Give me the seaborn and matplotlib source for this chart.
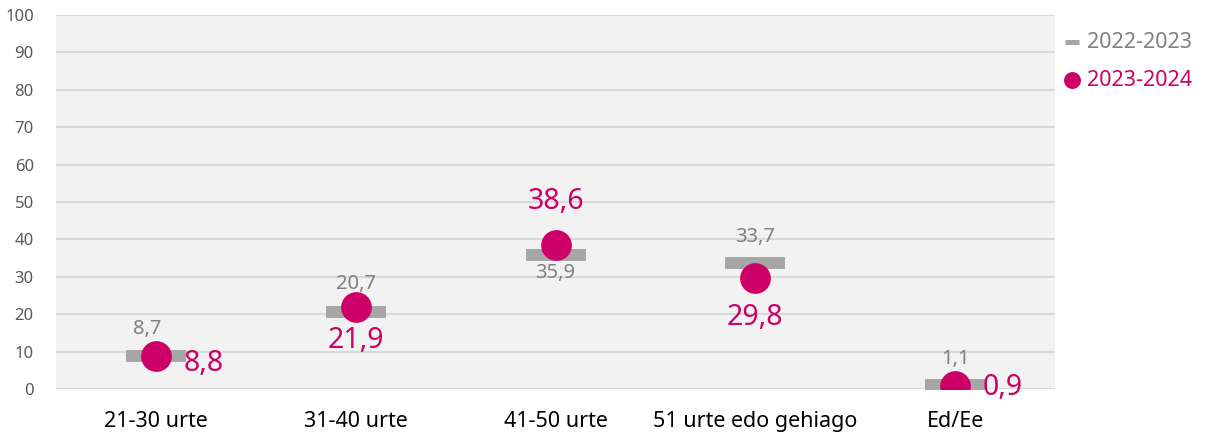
import pandas as pd
import matplotlib
matplotlib.use("Agg")
import matplotlib.pyplot as plt
import seaborn as sns

categories = ["21-30 urte", "31-40 urte", "41-50 urte", "51 urte edo gehiago", "Ed/Ee"]
prev_year = [8.7, 20.7, 35.9, 33.7, 1.1]
curr_year = [8.8, 21.9, 38.6, 29.8, 0.9]
series_names = ["2022-2023", "2023-2024"]

# label offsets in points (dx, dy)
prev_offsets = [(-6, 20), (0, 20), (0, -13), (0, 19), (0, 19)]
curr_offsets = [(20, -5), (0, -24), (0, 31), (0, -29), (20, -1)]
curr_ha = ["left", "center", "center", "center", "left"]

GREY = "#a6a6a6"
GREY_TXT = "#808080"
MAGENTA = "#cc0066"

df = pd.DataFrame({"cat": categories, "prev": prev_year, "curr": curr_year})

sns.set_style("white")
plt.rcParams["font.family"] = ["Noto Sans", "DejaVu Sans"]

fig = plt.figure(figsize=(12.05, 4.33), dpi=100)
ax = fig.add_axes([0.0465, 0.1016, 0.829, 0.8638])
ax.set_facecolor("#f2f2f2")

sns.scatterplot(data=df, x="cat", y="prev", marker="_", s=1850, linewidth=8.6,
                color=GREY, ax=ax, zorder=3, label=series_names[0])
sns.scatterplot(data=df, x="cat", y="curr", marker="o", s=490, linewidth=0,
                color=MAGENTA, ax=ax, zorder=4, label=series_names[1])

for i, v in enumerate(prev_year):
    ax.annotate(f"{v:.1f}".replace(".", ","), (i, v), xytext=prev_offsets[i],
                textcoords="offset points", ha="center", va="center",
                fontsize=14.5, color=GREY_TXT, zorder=5)
for i, v in enumerate(curr_year):
    ax.annotate(f"{v:.1f}".replace(".", ","), (i, v), xytext=curr_offsets[i],
                textcoords="offset points", ha=curr_ha[i], va="center",
                fontsize=20.5, color=MAGENTA, zorder=5)

ax.set_xlim(-0.5, 4.5)
ax.set_ylim(0, 100)
ax.set_yticks(range(0, 101, 10))
ax.yaxis.grid(True, color="#d9d9d9", linewidth=1.5, zorder=0)
ax.set_axisbelow(True)
for s in ax.spines.values():
    s.set_visible(False)
ax.tick_params(axis="y", length=0, labelsize=12, labelcolor="#595959", pad=16)
ax.tick_params(axis="x", length=0, labelsize=15.5, labelcolor="#000000", pad=16)
ax.set_xlabel("")
ax.set_ylabel("")

leg = ax.legend(loc="upper left", bbox_to_anchor=(0.993, 0.995), frameon=False,
                fontsize=15.5, handletextpad=0.3, labelspacing=0.8, markerscale=0.55,
                borderaxespad=0.3, handlelength=0.8)
for txt, col in zip(leg.get_texts(), [GREY_TXT, MAGENTA]):
    txt.set_color(col)
leg.legend_handles[0].set_linewidth(3.6)
leg.legend_handles[0].set_sizes([90])

fig.savefig("out.png", dpi=100)
